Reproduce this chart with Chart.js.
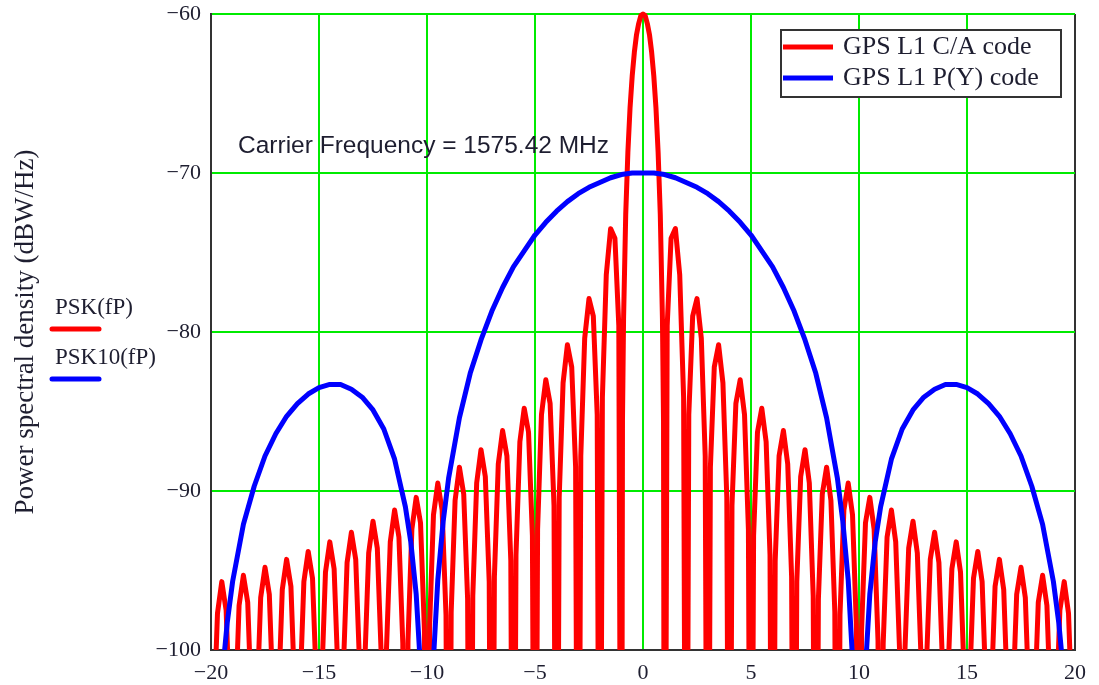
<!DOCTYPE html>
<html>
<head>
<meta charset="utf-8">
<script src="https://cdn.jsdelivr.net/npm/chart.js@4/dist/chart.umd.min.js"></script>
<style>
  html, body { margin: 0; padding: 0; background: #fff; }
  canvas { display: block; }
</style>
</head>
<body>
<canvas id="psdChart" width="1099" height="685"></canvas>
<script>
// Axis ticks (normalised frequency offset / dBW/Hz)
const xTicks = [-20, -15, -10, -5, 0, 5, 10, 15, 20];
const yTicks = [-100, -90, -80, -70, -60];

// C/A code spectrum: one row per lobe, starting at its null
const caFreq = [
  -20, -19.88, -19.7, -19.5, -19.3, -19.12,
  -19, -18.88, -18.7, -18.5, -18.3, -18.12,
  -18, -17.88, -17.7, -17.5, -17.3, -17.12,
  -17, -16.88, -16.7, -16.5, -16.3, -16.12,
  -16, -15.88, -15.7, -15.5, -15.3, -15.12,
  -15, -14.88, -14.7, -14.5, -14.3, -14.12,
  -14, -13.88, -13.7, -13.5, -13.3, -13.12,
  -13, -12.88, -12.7, -12.5, -12.3, -12.12,
  -12, -11.88, -11.7, -11.5, -11.3, -11.12,
  -11, -10.88, -10.7, -10.5, -10.3, -10.12,
  -10, -9.88, -9.7, -9.5, -9.3, -9.12,
  -9, -8.88, -8.7, -8.5, -8.3, -8.12,
  -8, -7.88, -7.7, -7.5, -7.3, -7.12,
  -7, -6.88, -6.7, -6.5, -6.3, -6.12,
  -6, -5.88, -5.7, -5.5, -5.3, -5.12,
  -5, -4.88, -4.7, -4.5, -4.3, -4.12,
  -4, -3.88, -3.7, -3.5, -3.3, -3.12,
  -3, -2.88, -2.7, -2.5, -2.3, -2.12,
  -2, -1.88, -1.7, -1.5, -1.3, -1.12,
  -1, -0.95, -0.9, -0.8, -0.7, -0.6, -0.5, -0.4, -0.3, -0.2, -0.1,
  0, 0.1, 0.2, 0.3, 0.4, 0.5, 0.6, 0.7, 0.8, 0.9, 0.95,
  1, 1.12, 1.3, 1.5, 1.7, 1.88,
  2, 2.12, 2.3, 2.5, 2.7, 2.88,
  3, 3.12, 3.3, 3.5, 3.7, 3.88,
  4, 4.12, 4.3, 4.5, 4.7, 4.88,
  5, 5.12, 5.3, 5.5, 5.7, 5.88,
  6, 6.12, 6.3, 6.5, 6.7, 6.88,
  7, 7.12, 7.3, 7.5, 7.7, 7.88,
  8, 8.12, 8.3, 8.5, 8.7, 8.88,
  9, 9.12, 9.3, 9.5, 9.7, 9.88,
  10, 10.12, 10.3, 10.5, 10.7, 10.88,
  11, 11.12, 11.3, 11.5, 11.7, 11.88,
  12, 12.12, 12.3, 12.5, 12.7, 12.88,
  13, 13.12, 13.3, 13.5, 13.7, 13.88,
  14, 14.12, 14.3, 14.5, 14.7, 14.88,
  15, 15.12, 15.3, 15.5, 15.7, 15.88,
  16, 16.12, 16.3, 16.5, 16.7, 16.88,
  17, 17.12, 17.3, 17.5, 17.7, 17.88,
  18, 18.12, 18.3, 18.5, 18.7, 18.88,
  19, 19.12, 19.3, 19.5, 19.7, 19.88,
  20
];
const caPsd = [
  -130, -104.6, -97.7, -95.7, -97.5, -104.3,
  -130, -104.1, -97.2, -95.3, -97.0, -103.8,
  -130, -103.7, -96.7, -94.8, -96.5, -103.3,
  -130, -103.2, -96.2, -94.3, -96.0, -102.8,
  -130, -102.6, -95.7, -93.8, -95.5, -102.2,
  -130, -102.1, -95.1, -93.2, -94.9, -101.6,
  -130, -101.5, -94.5, -92.6, -94.3, -101.0,
  -130, -100.8, -93.9, -91.9, -93.6, -100.3,
  -130, -100.1, -93.2, -91.2, -92.9, -99.6,
  -130, -99.4, -92.4, -90.4, -92.0, -98.7,
  -130, -98.5, -91.5, -89.5, -91.2, -97.8,
  -130, -97.6, -90.6, -88.5, -90.2, -96.8,
  -130, -96.6, -89.5, -87.4, -89.1, -95.7,
  -130, -95.4, -88.3, -86.2, -87.8, -94.4,
  -130, -94.0, -86.9, -84.8, -86.3, -92.8,
  -130, -92.4, -85.2, -83.0, -84.5, -90.9,
  -130, -90.4, -83.2, -80.8, -82.2, -88.5,
  -130, -87.8, -80.4, -77.9, -79.0, -85.2,
  -130, -84.1, -76.4, -73.5, -74.1, -79.6,
  -130, -85.6, -79.2, -72.6, -68.7, -65.9, -63.9, -62.4, -61.3, -60.6, -60.1,
  -60.0, -60.1, -60.6, -61.3, -62.4, -63.9, -65.9, -68.7, -72.6, -79.2, -85.6,
  -130, -79.6, -74.1, -73.5, -76.4, -84.1,
  -130, -85.2, -79.0, -77.9, -80.4, -87.8,
  -130, -88.5, -82.2, -80.8, -83.2, -90.4,
  -130, -90.9, -84.5, -83.0, -85.2, -92.4,
  -130, -92.8, -86.3, -84.8, -86.9, -94.0,
  -130, -94.4, -87.8, -86.2, -88.3, -95.4,
  -130, -95.7, -89.1, -87.4, -89.5, -96.6,
  -130, -96.8, -90.2, -88.5, -90.6, -97.6,
  -130, -97.8, -91.2, -89.5, -91.5, -98.5,
  -130, -98.7, -92.0, -90.4, -92.4, -99.4,
  -130, -99.6, -92.9, -91.2, -93.2, -100.1,
  -130, -100.3, -93.6, -91.9, -93.9, -100.8,
  -130, -101.0, -94.3, -92.6, -94.5, -101.5,
  -130, -101.6, -94.9, -93.2, -95.1, -102.1,
  -130, -102.2, -95.5, -93.8, -95.7, -102.6,
  -130, -102.8, -96.0, -94.3, -96.2, -103.2,
  -130, -103.3, -96.5, -94.8, -96.7, -103.7,
  -130, -103.8, -97.0, -95.3, -97.2, -104.1,
  -130, -104.3, -97.5, -95.7, -97.7, -104.6,
  -130
];

// P(Y) code spectrum
const pyFreq = [
  -20, -19.5, -19.25, -19, -18.5, -18, -17.5, -17, -16.5, -16, -15.5, -15,
  -14.5, -14, -13.5, -13, -12.5, -12, -11.5, -11, -10.75, -10.5, -10.25,
  -10, -9.75, -9.5, -9.25, -9, -8.5, -8, -7.5, -7, -6.5, -6, -5.5, -5,
  -4.5, -4, -3.5, -3, -2.5, -2, -1.5, -1, -0.5,
  0, 0.5, 1, 1.5, 2, 2.5, 3, 3.5, 4, 4.5,
  5, 5.5, 6, 6.5, 7, 7.5, 8, 8.5, 9, 9.25, 9.5, 9.75,
  10, 10.25, 10.5, 10.75, 11, 11.5, 12, 12.5, 13, 13.5, 14, 14.5,
  15, 15.5, 16, 16.5, 17, 17.5, 18, 18.5, 19, 19.25, 19.5, 20
];
const pyPsd = [
  -130, -101.9, -98.3, -95.7, -92.1, -89.7, -87.8, -86.4, -85.3, -84.5, -83.9, -83.5,
  -83.3, -83.3, -83.6, -84.1, -84.9, -86.1, -88.0, -91.0, -93.2, -96.5, -102.3,
  -130, -101.8, -95.6, -91.9, -89.2, -85.4, -82.6, -80.5, -78.7, -77.2, -75.9, -74.9, -73.9,
  -73.1, -72.4, -71.8, -71.3, -70.9, -70.6, -70.3, -70.1, -70.0,
  -70.0, -70.0, -70.1, -70.3, -70.6, -70.9, -71.3, -71.8, -72.4, -73.1,
  -73.9, -74.9, -75.9, -77.2, -78.7, -80.5, -82.6, -85.4, -89.2, -91.9, -95.6, -101.8,
  -130, -102.3, -96.5, -93.2, -91.0, -88.0, -86.1, -84.9, -84.1, -83.6, -83.3, -83.3,
  -83.5, -83.9, -84.5, -85.3, -86.4, -87.8, -89.7, -92.1, -95.7, -98.3, -101.9, -130
];

const seriesNames = ['GPS L1 C/A code', 'GPS L1 P(Y) code'];
const traceNames = ['PSK(fP)', 'PSK10(fP)'];
const carrierNote = 'Carrier Frequency = 1575.42 MHz';
const yTitle = 'Power spectral density (dBW/Hz)';

const SERIF = '"Liberation Serif", "Times New Roman", serif';
const SANS = '"Liberation Sans", Arial, sans-serif';
const INK = '#1e1e30';
const GRID = 'rgb(0, 235, 0)';
const FRAME = '#333333';
const RED = '#ff0000';
const BLUE = '#0000ff';

const toPoints = (xs, ys) => xs.map((x, i) => ({ x: x, y: ys[i] }));
const minusLabel = v => (v < 0 ? '\u2212' + Math.abs(v) : String(v));

// note text, boxed legend and the trace names on the left
const overlay = {
  id: 'overlay',
  afterDraw(chart) {
    const ctx = chart.ctx;
    const sets = chart.data.datasets;
    ctx.save();

    ctx.fillStyle = INK;
    ctx.font = '24.5px ' + SANS;
    ctx.textBaseline = 'middle';
    ctx.fillText(carrierNote, 238, 146);

    // legend box
    ctx.fillStyle = '#ffffff';
    ctx.fillRect(781, 30, 280, 67);
    ctx.strokeStyle = FRAME;
    ctx.lineWidth = 2;
    ctx.strokeRect(781, 30, 280, 67);
    ctx.font = '26px ' + SERIF;
    sets.forEach((ds, i) => {
      const y = 47 + i * 31;
      ctx.strokeStyle = ds.borderColor;
      ctx.lineWidth = 5;
      ctx.beginPath();
      ctx.moveTo(783, y);
      ctx.lineTo(833, y);
      ctx.stroke();
      ctx.fillStyle = INK;
      ctx.fillText(ds.label, 843, y);
    });

    // trace names
    ctx.font = '23px ' + SERIF;
    ctx.lineCap = 'round';
    traceNames.forEach((name, i) => {
      const y = 308 + i * 50;
      ctx.fillStyle = INK;
      ctx.fillText(name, 55, y);
      ctx.strokeStyle = sets[i].borderColor;
      ctx.lineWidth = 5;
      ctx.beginPath();
      ctx.moveTo(52, y + 21);
      ctx.lineTo(99, y + 21);
      ctx.stroke();
    });
    ctx.restore();
  }
};

new Chart(document.getElementById('psdChart'), {
  type: 'line',
  data: {
    datasets: [
      {
        label: seriesNames[0],
        data: toPoints(caFreq, caPsd),
        borderColor: RED,
        borderWidth: 5,
        borderJoinStyle: 'round',
        pointRadius: 0,
        tension: 0,
        order: 2,
        clip: { left: 0, right: 0, top: 3, bottom: 0 }
      },
      {
        label: seriesNames[1],
        data: toPoints(pyFreq, pyPsd),
        borderColor: BLUE,
        borderWidth: 5,
        borderJoinStyle: 'round',
        pointRadius: 0,
        tension: 0,
        order: 1,
        clip: { left: 0, right: 0, top: 3, bottom: 0 }
      }
    ]
  },
  options: {
    responsive: false,
    devicePixelRatio: 1,
    animation: false,
    events: [],
    layout: { padding: { top: 14, right: 24, left: 0, bottom: 0 } },
    plugins: {
      legend: { display: false },
      tooltip: { enabled: false }
    },
    scales: {
      x: {
        type: 'linear',
        min: -20,
        max: 20,
        afterBuildTicks: axis => { axis.ticks = xTicks.map(v => ({ value: v })); },
        afterFit: axis => {
          axis.height = 35;
          axis.paddingLeft = 0;
          axis.paddingRight = 0;
        },
        grid: {
          color: c => (c.tick && c.tick.value === 20 ? FRAME : GRID),
          lineWidth: 2,
          drawTicks: false
        },
        border: { display: true, color: FRAME, width: 2 },
        ticks: {
          padding: 10,
          autoSkip: false,
          maxRotation: 0,
          color: INK,
          font: { family: SERIF, size: 22 },
          callback: v => minusLabel(v)
        }
      },
      y: {
        min: -100,
        max: -60,
        afterBuildTicks: axis => { axis.ticks = yTicks.map(v => ({ value: v })); },
        afterFit: axis => {
          axis.width = 211;
          axis.paddingTop = 0;
          axis.paddingBottom = 0;
        },
        grid: { color: GRID, lineWidth: 2, drawTicks: false },
        border: { display: true, color: FRAME, width: 2 },
        title: {
          display: true,
          text: yTitle,
          color: INK,
          font: { family: SERIF, size: 27 },
          padding: { top: 10, bottom: 0 }
        },
        ticks: {
          padding: 10,
          color: INK,
          font: { family: SERIF, size: 22 },
          callback: v => minusLabel(v)
        }
      }
    }
  },
  plugins: [overlay]
});
</script>
</body>
</html>
